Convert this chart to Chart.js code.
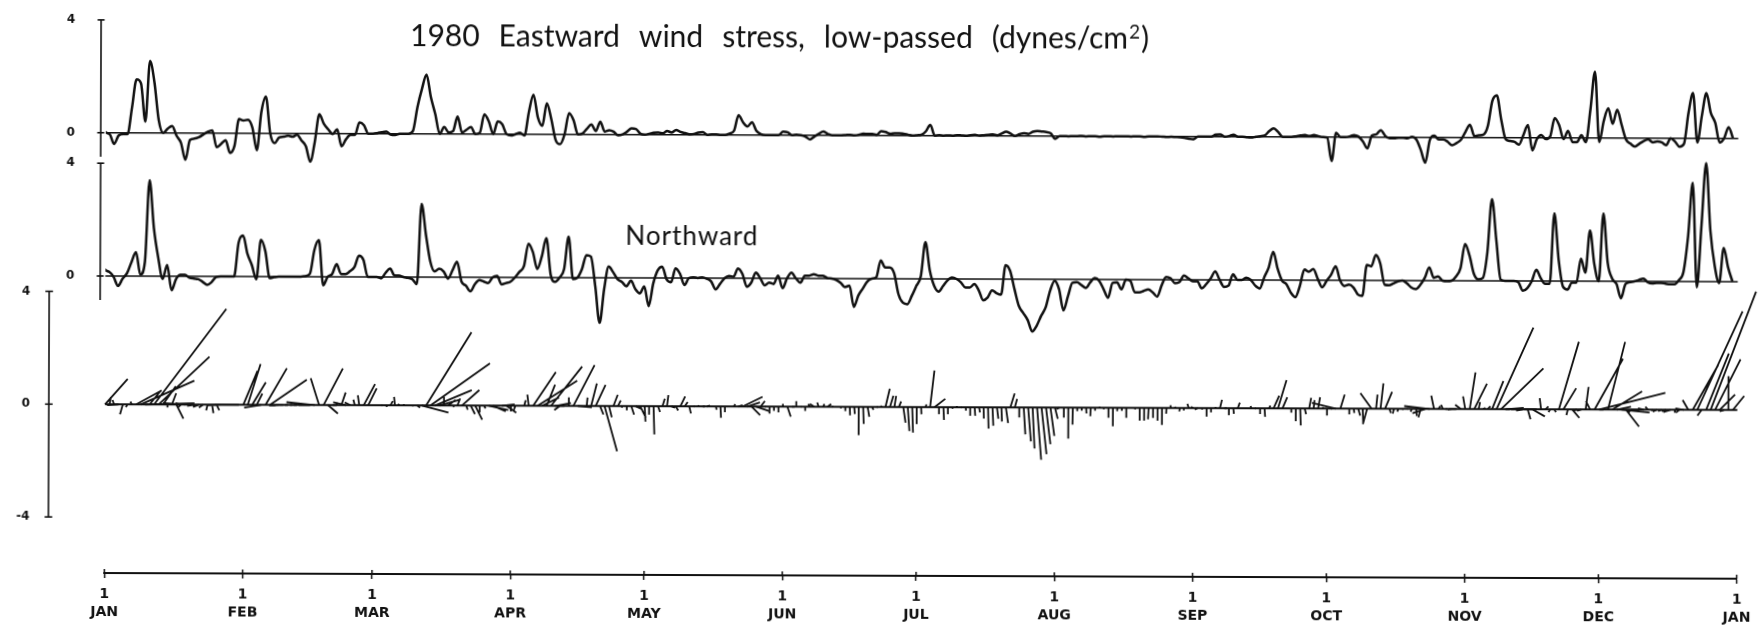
<!DOCTYPE html>
<html>
<head>
<meta charset="utf-8">
<title>1980 Eastward wind stress, low-passed</title>
<script src="https://cdn.jsdelivr.net/npm/chart.js@4.4.1/dist/chart.umd.min.js"></script>
<style>
  html, body { margin: 0; padding: 0; background: #fff; overflow: hidden; }
  #sheet { position: absolute; left: 0; top: 0; width: 1759px; height: 627px;
           transform: rotate(0.2deg); transform-origin: 100px 350px; }
  canvas { display: block; }
</style>
</head>
<body>
<div id="sheet"><canvas id="stress" width="1759" height="627"></canvas></div>
<script>
// Daily low-passed wind stress, 1 Jan 1980 .. 1 Jan 1981 (dynes/cm^2)
const EAST_STRESS = [
  0.8, 0.05, -0.05, -0.4, -0.1, -0.05, -0.05, 0.9, 1.9, 1.75,
  0.4, 2.55, 1.8, 0.45, 0.0, 0.15, 0.25, -0.1, -0.35, -0.95,
  -0.25, -0.2, -0.15, -0.05, 0.05, 0.1, -0.5, -0.38, -0.25, -0.7,
  -0.45, 0.5, 0.45, 0.48, 0.2, -0.6, 0.75, 1.3, 0.0, -0.35,
  -0.15, -0.12, -0.08, -0.12, -0.05, -0.25, -0.45, -1.0, -0.3, 0.68,
  0.35, 0.15, -0.02, 0.15, -0.45, -0.2, -0.05, -0.05, 0.4, 0.3,
  0.0, 0.0, 0.02, 0.05, 0.08, -0.03, -0.05, 0.0, 0.0, 0.0,
  0.1, 0.95, 1.6, 2.1, 1.3, 0.7, 0.0, 0.25, 0.05, 0.1,
  0.62, 0.05, 0.15, 0.25, 0.0, 0.05, 0.7, 0.45, 0.0, 0.45,
  0.35, 0.0, -0.05, 0.0, 0.05, -0.05, 0.8, 1.4, 0.6, 0.3,
  1.1, 0.55, -0.2, -0.35, 0.0, 0.75, 0.5, 0.0, 0.03, 0.2,
  0.35, 0.12, 0.45, 0.1, 0.15, 0.1, -0.03, 0.0, 0.1, 0.22,
  0.2, 0.03, 0.0, 0.03, 0.07, 0.08, 0.05, 0.13, 0.08, 0.17,
  0.1, 0.06, 0.02, 0.03, 0.08, 0.1, 0.0, 0.02, 0.02, 0.0,
  0.0, 0.05, 0.15, 0.7, 0.45, 0.3, 0.45, 0.15, 0.03, 0.0,
  0.0, 0.0, 0.0, 0.12, 0.1, 0.0, 0.02, 0.0, -0.05, -0.15,
  -0.05, 0.05, 0.13, 0.05, 0.0, 0.0, 0.0, 0.01, 0.02, 0.0,
  0.02, 0.06, 0.05, 0.05, 0.02, 0.15, 0.12, 0.06, 0.08, 0.08,
  0.06, 0.03, 0.0, 0.01, 0.03, 0.15, 0.38, 0.0, 0.02, 0.0,
  0.01, 0.0, 0.02, 0.01, 0.0, 0.02, 0.03, 0.01, 0.02, 0.03,
  0.05, 0.02, 0.08, 0.15, 0.08, 0.0, 0.06, 0.1, 0.07, 0.15,
  0.18, 0.16, 0.14, 0.1, -0.1, 0.0, 0.0, -0.01, 0.0, 0.0,
  0.01, -0.01, 0.0, 0.0, -0.02, 0.0, 0.0, -0.01, 0.0, 0.0,
  0.0, -0.01, 0.0, 0.0, -0.02, 0.0, 0.0, 0.0, -0.01, -0.02,
  -0.01, -0.02, -0.03, -0.05, -0.08, -0.1, 0.0, 0.0, 0.0, 0.0,
  0.07, 0.08, 0.0, 0.02, 0.07, 0.0, 0.0, -0.02, -0.03, 0.0,
  0.02, 0.05, 0.2, 0.3, 0.17, 0.0, 0.0, 0.0, 0.02, 0.05,
  0.07, 0.03, 0.07, 0.03, 0.0, -0.02, -0.85, 0.15, 0.0, 0.0,
  0.02, 0.07, 0.02, -0.15, -0.4, 0.05, 0.1, 0.25, 0.05, -0.04,
  -0.04, -0.02, -0.02, -0.04, 0.02, -0.08, -0.45, -0.9, -0.1, 0.06,
  -0.07, -0.07, -0.15, -0.28, -0.2, -0.08, 0.2, 0.45, 0.05, 0.08,
  0.1, 0.4, 1.3, 1.5, 0.65, -0.05, -0.12, -0.15, -0.25, 0.1,
  0.45, -0.45, -0.05, 0.1, -0.05, 0.05, 0.7, 0.45, -0.05, 0.25,
  -0.15, -0.15, 0.1, -0.15, 1.0, 2.35, -0.15, 0.6, 1.05, 0.5,
  1.0, 0.47, -0.05, -0.2, -0.3, -0.2, -0.1, -0.05, -0.15, -0.12,
  -0.15, -0.25, 0.0, -0.12, -0.3, -0.2, 0.9, 1.6, -0.15, 0.8,
  1.6, 0.9, 0.55, -0.15, 0.0, 0.4, 0.0
];

const NORTH_STRESS = [
  0.9, 0.25, 0.15, -0.03, -0.35, -0.1, 0.1, 0.5, 0.85, 0.05,
  0.5, 3.4, 1.7, 0.65, -0.1, 0.4, -0.5, -0.1, 0.05, 0.05,
  -0.05, -0.08, -0.1, -0.2, -0.3, -0.2, -0.02, 0.0, 0.0, 0.0,
  0.0, 1.2, 1.45, 0.8, 0.4, -0.1, 1.3, 0.9, -0.05, -0.02,
  0.0, 0.0, 0.0, 0.0, 0.0, 0.0, 0.02, 0.1, 0.95, 1.3,
  -0.3, 0.0, 0.1, 0.45, 0.1, 0.1, 0.2, 0.35, 0.75, 0.6,
  0.0, 0.0, 0.0, -0.05, 0.15, 0.3, 0.05, 0.05, 0.0, -0.03,
  -0.08, -0.25, 2.6, 1.5, 0.55, 0.2, 0.3, 0.2, -0.05, 0.25,
  0.55, -0.15, -0.3, -0.5, -0.25, -0.1, -0.15, -0.2, 0.0, 0.05,
  -0.25, -0.2, -0.15, 0.0, 0.2, 0.4, 1.2, 0.9, 0.3, 0.75,
  1.4, 0.1, -0.15, 0.0, 0.3, 1.45, -0.05, 0.0, 0.3, 0.8,
  0.75, -0.3, -1.6, -0.4, 0.4, 0.2, -0.05, -0.15, -0.3, -0.1,
  -0.4, -0.55, -0.3, -1.0, -0.2, 0.27, 0.4, -0.05, -0.15, 0.35,
  0.15, -0.25, 0.0, 0.03, 0.0, 0.03, -0.02, -0.12, -0.4, -0.2,
  0.0, 0.08, 0.05, 0.35, 0.15, -0.3, -0.15, 0.2, 0.0, -0.25,
  -0.15, -0.2, 0.1, -0.35, 0.0, 0.2, 0.0, -0.15, 0.1, 0.1,
  0.15, 0.1, 0.1, 0.02, 0.0, -0.05, -0.15, -0.3, -0.25, -1.0,
  -0.6, -0.35, -0.1, 0.0, 0.05, 0.65, 0.4, 0.4, 0.2, -0.55,
  -0.85, -0.9, -0.6, -0.25, 0.1, 1.3, 0.3, -0.25, -0.45, -0.25,
  -0.05, 0.05, 0.0, -0.12, -0.3, -0.3, -0.18, -0.4, -0.75, -0.65,
  -0.4, -0.5, -0.55, 0.5, 0.3, -0.35, -0.95, -1.2, -1.45, -1.85,
  -1.65, -1.3, -1.0, -0.4, -0.05, -0.35, -1.1, -0.6, -0.12, -0.1,
  -0.2, -0.3, -0.1, 0.05, -0.05, -0.35, -0.65, -0.12, -0.1, -0.35,
  0.0, -0.05, -0.45, -0.45, -0.4, -0.35, -0.45, -0.6, -0.2, 0.1,
  0.05, -0.12, -0.08, 0.15, 0.05, -0.05, -0.05, -0.3, -0.15, 0.05,
  0.3, 0.0, -0.25, -0.2, 0.2, 0.0, 0.0, 0.08, 0.0, -0.2,
  -0.3, 0.1, 0.45, 1.0, 0.4, -0.02, -0.15, -0.45, -0.6, -0.2,
  0.38, 0.3, 0.4, 0.05, -0.25, -0.02, 0.2, 0.5, 0.0, -0.2,
  -0.15, -0.25, -0.5, -0.55, 0.55, 0.5, 0.9, 0.6, -0.15, -0.17,
  -0.1, -0.03, 0.0, -0.1, -0.25, -0.3, -0.15, 0.1, 0.47, 0.1,
  0.15, 0.0, -0.02, 0.0, 0.15, 0.45, 1.3, 0.9, 0.25, 0.05,
  0.1, 1.0, 2.9, 1.45, 0.05, 0.0, 0.0, 0.0, -0.05, -0.35,
  -0.25, 0.0, 0.4, 0.1, -0.1, -0.1, 2.4, 0.75, -0.2, -0.3,
  -0.05, -0.05, 0.8, 0.3, 1.8, 0.6, 0.0, 2.4, 0.65, 0.1,
  -0.1, -0.6, -0.1, -0.03, 0.0, 0.05, 0.1, -0.03, -0.07, -0.05,
  -0.05, -0.08, -0.1, -0.1, 0.05, 0.35, 1.6, 3.5, -0.2, 2.0,
  4.2, 1.8, 0.55, -0.05, 1.2, 0.5, 0.0
];

// Day of year (from 1 Jan) at which each month starts; last entry is 1 Jan 1981
const MONTH_START_DAYS = [0, 31, 60, 91, 121, 152, 182, 213, 244, 274, 305, 335, 366];
const MONTH_NAMES = ['JAN', 'FEB', 'MAR', 'APR', 'MAY', 'JUN', 'JUL', 'AUG', 'SEP', 'OCT', 'NOV', 'DEC', 'JAN'];
const SERIES_TICKS = [4, 0];
const STICK_TICKS = [4, 0, -4];

const TITLE_WORDS = ['1980', 'Eastward', 'wind', 'stress,', 'low-passed', '(dynes/cm'];
const PANEL_LABEL = 'Northward';

const INK = '#111';
const TEXT_FONT = 'Lato, "Noto Sans", sans-serif';
const TICK_FONT = '"DejaVu Sans", sans-serif';

const series = arr => arr.map((v, i) => ({ x: i, y: v }));
const lastDay = EAST_STRESS.length - 1;

const lineStyle = {
  borderColor: INK, borderWidth: 2.5, pointRadius: 0,
  cubicInterpolationMode: 'monotone', borderJoinStyle: 'round', fill: false
};
const ruleStyle = { borderColor: INK, borderWidth: 1.6, pointRadius: 0, fill: false };

// Axes, labels, title and the stick (vector) diagram
const decorations = {
  id: 'decorations',
  afterDatasetsDraw(chart) {
    const { ctx, scales } = chart;
    const x = scales.x, xTop = scales.xTop, yS = scales.yS;
    ctx.save();
    ctx.strokeStyle = INK;
    ctx.fillStyle = INK;
    ctx.lineCap = 'butt';

    // stick diagram: one vector per day from the baseline, equal scaling on both axes
    const y0 = yS.getPixelForValue(0);
    const unit = y0 - yS.getPixelForValue(1);
    ctx.lineWidth = 1.8;
    ctx.beginPath();
    EAST_STRESS.forEach((u, i) => {
      const v = NORTH_STRESS[i];
      const x0 = x.getPixelForValue(i);
      ctx.moveTo(x0, y0);
      ctx.lineTo(x0 + u * unit, yS.getPixelForValue(v));
    });
    ctx.stroke();

    // vertical value axes
    const drawAxis = (px, ys, from, to, ticks, cap, labelGap) => {
      ctx.lineWidth = 1.6;
      ctx.beginPath();
      ctx.moveTo(px, ys.getPixelForValue(from));
      ctx.lineTo(px, ys.getPixelForValue(to));
      ctx.stroke();
      ctx.font = 'bold 12px ' + TICK_FONT;
      ctx.textAlign = 'right';
      ctx.textBaseline = 'middle';
      ticks.forEach(t => {
        const py = ys.getPixelForValue(t);
        ctx.beginPath();
        ctx.moveTo(px - cap, py);
        ctx.lineTo(px + cap, py);
        ctx.stroke();
        ctx.fillText(String(t), px - labelGap, py);
      });
    };
    const seriesAxisX = xTop.getPixelForValue(0);
    drawAxis(seriesAxisX, scales.yE, 4, -0.85, SERIES_TICKS, 3.5, 26);
    drawAxis(seriesAxisX, scales.yN, 4, -0.85, SERIES_TICKS, 3.5, 26);
    drawAxis(x.getPixelForValue(-12.6), yS, 4, -4, STICK_TICKS, 3.8, 19);

    // upper half of the month tick marks on the time axis
    const axisY = chart.chartArea.bottom;
    ctx.lineWidth = 1.5;
    ctx.beginPath();
    MONTH_START_DAYS.forEach(d => {
      const px = x.getPixelForValue(d);
      ctx.moveTo(px, axisY - 4);
      ctx.lineTo(px, axisY);
    });
    ctx.stroke();

    // title
    ctx.textAlign = 'left';
    ctx.textBaseline = 'alphabetic';
    ctx.font = '30px ' + TEXT_FONT;
    let tx = 409;
    const ty = 45;
    TITLE_WORDS.forEach((w, i) => {
      ctx.fillText(w, tx, ty);
      tx += ctx.measureText(w).width + (i < TITLE_WORDS.length - 1 ? 19 : 0);
    });
    ctx.font = '19px ' + TEXT_FONT;
    ctx.fillText('2', tx + 1, ty - 10);
    tx += ctx.measureText('2').width + 2;
    ctx.font = '30px ' + TEXT_FONT;
    ctx.fillText(')', tx, ty);

    // panel label
    ctx.font = '26px ' + TEXT_FONT;
    ctx.letterSpacing = '1px';
    ctx.fillText(PANEL_LABEL, 625, 243);
    ctx.restore();
  }
};

new Chart(document.getElementById('stress'), {
  type: 'line',
  data: {
    datasets: [
      { ...lineStyle, label: 'Eastward', data: series(EAST_STRESS), xAxisID: 'xTop', yAxisID: 'yE' },
      { ...lineStyle, label: 'Northward', data: series(NORTH_STRESS), xAxisID: 'xTop', yAxisID: 'yN' },
      { ...ruleStyle, label: 'east zero', data: [{ x: 0, y: 0 }, { x: lastDay + 1.6, y: 0 }], xAxisID: 'xTop', yAxisID: 'yE' },
      { ...ruleStyle, label: 'north zero', data: [{ x: 0, y: 0 }, { x: lastDay + 1.6, y: 0 }], xAxisID: 'xTop', yAxisID: 'yN' },
      { ...ruleStyle, borderWidth: 2, label: 'stick baseline', data: [{ x: 0, y: 0 }, { x: lastDay + 0.5, y: 0 }], xAxisID: 'x', yAxisID: 'yS' }
    ]
  },
  options: {
    responsive: false,
    devicePixelRatio: 1,
    animation: false,
    events: [],
    layout: { padding: { left: 105.2, right: 21.5, top: 0, bottom: 0 } },
    plugins: { legend: { display: false }, tooltip: { enabled: false }, title: { display: false } },
    scales: {
      x: {
        type: 'linear', position: 'bottom', min: 0, max: 366,
        afterBuildTicks: s => { s.ticks = MONTH_START_DAYS.map(v => ({ value: v })); },
        afterFit: s => { s.height = 54; },
        ticks: {
          autoSkip: false, maxRotation: 0, minRotation: 0, padding: 7, color: INK,
          font: { family: TICK_FONT, size: 14, weight: 'bold', lineHeight: 1.3 },
          callback: (v, i) => ['1', MONTH_NAMES[i]]
        },
        grid: { display: true, drawOnChartArea: false, drawTicks: true, tickLength: 5, tickWidth: 1.5, tickColor: INK },
        border: { display: true, color: INK, width: 2 }
      },
      xTop: { type: 'linear', display: false, min: 1.17, max: 367.17 },
      yE: { type: 'linear', display: false, min: -15.613, max: 4.706 },
      yN: { type: 'linear', display: false, min: -10.532, max: 9.787 },
      yS: { type: 'linear', display: false, min: -5.982, max: 14.337 }
    }
  },
  plugins: [decorations]
});
</script>
</body>
</html>
